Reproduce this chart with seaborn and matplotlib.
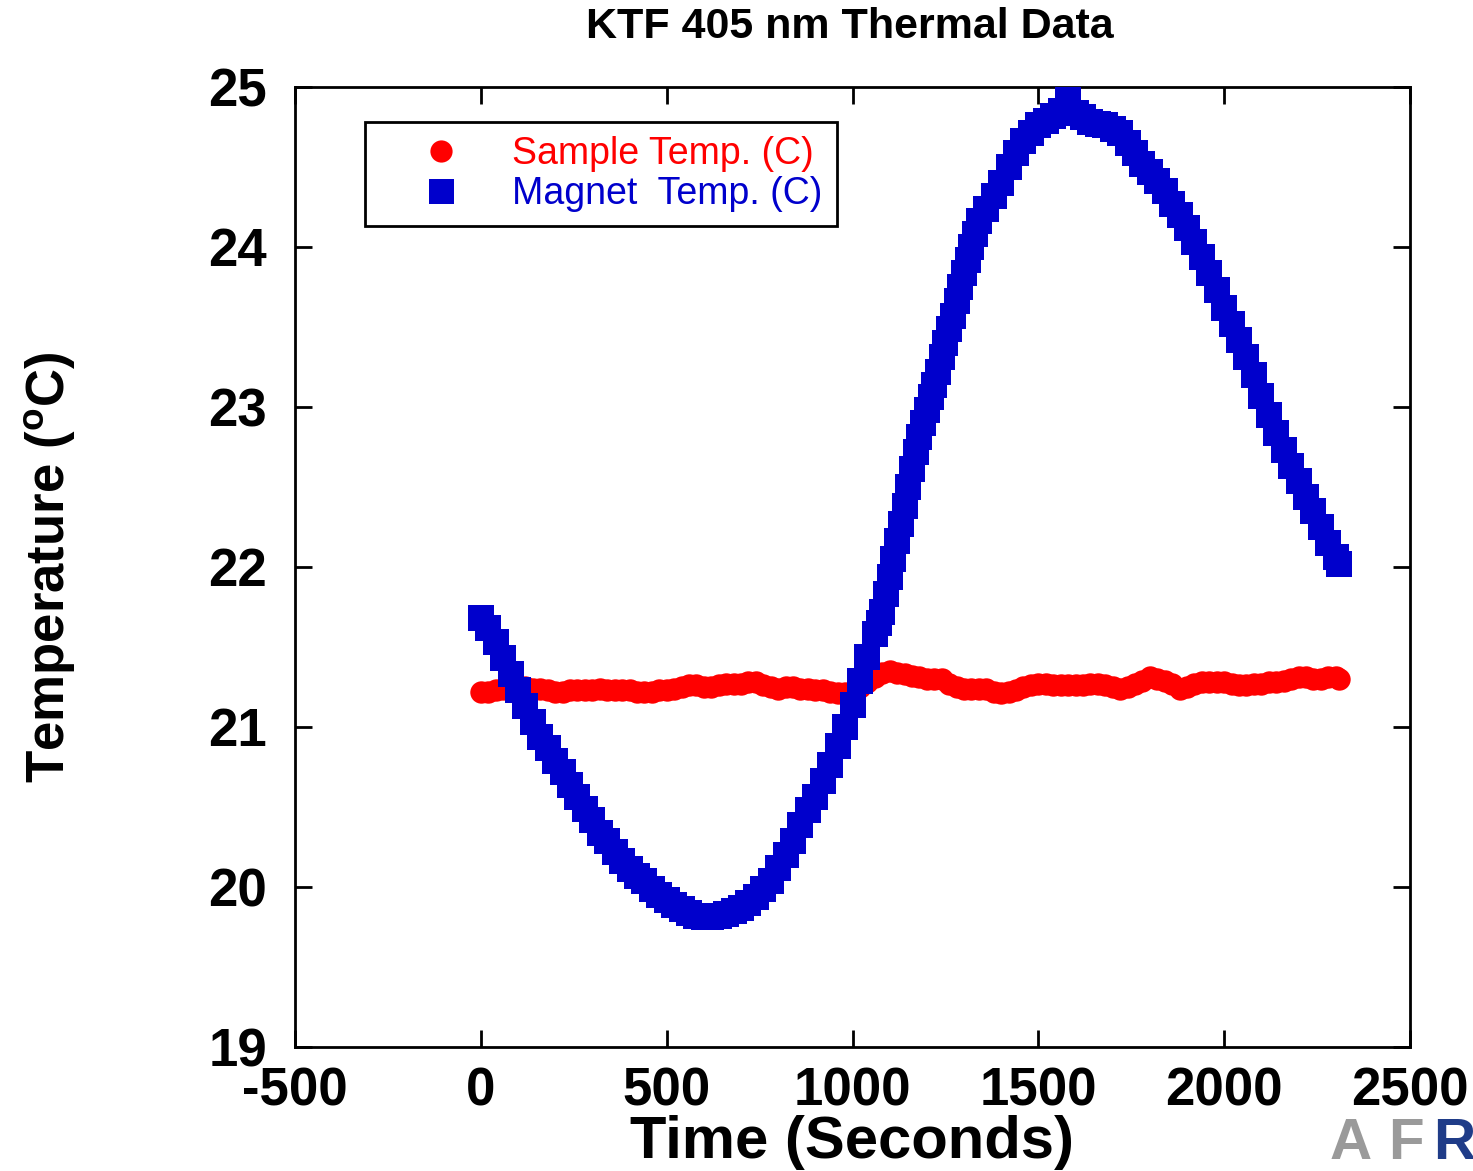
import matplotlib
matplotlib.use("Agg")
import matplotlib.pyplot as plt
from matplotlib.lines import Line2D
import numpy as np
import pandas as pd
import seaborn as sns

# ---------------- data ----------------
magnet_time = [0, 20, 40, 60, 80, 100, 120, 140, 160, 180, 200, 220, 240, 260, 280,
               300, 320, 340, 360, 380, 400, 420, 440, 460, 480, 500, 520, 540, 560, 580,
               600, 620, 640, 660, 680, 700, 720, 740, 760, 780, 800, 820, 840, 860, 880,
               900, 920, 940, 960, 980, 1000, 1020, 1040, 1060, 1070, 1080, 1090, 1100,
               1110, 1120, 1130, 1140, 1150, 1160, 1170, 1180, 1190, 1200, 1210, 1220,
               1230, 1240, 1250, 1260, 1270, 1280, 1290, 1300, 1310, 1320, 1330, 1340,
               1360, 1380, 1400, 1420, 1440, 1460, 1480, 1500, 1520, 1540, 1560, 1580,
               1600, 1620, 1640, 1660, 1680, 1700, 1720, 1740, 1760, 1780, 1800, 1820,
               1840, 1860, 1880, 1900, 1920, 1940, 1960, 1980, 2000, 2020, 2040, 2060,
               2080, 2100, 2120, 2140, 2160, 2180, 2200, 2220, 2240, 2260, 2280, 2300, 2310]
magnet_temp = [21.68, 21.62, 21.53, 21.43, 21.33, 21.23, 21.13, 21.03, 20.94, 20.87,
               20.79, 20.72, 20.64, 20.56, 20.49, 20.42, 20.34, 20.29, 20.22, 20.16,
               20.11, 20.07, 20.04, 19.99, 19.95, 19.92, 19.89, 19.86, 19.84, 19.82,
               19.81, 19.81, 19.82, 19.83, 19.85, 19.87, 19.90, 19.94, 19.99, 20.04,
               20.12, 20.20, 20.29, 20.39, 20.48, 20.56, 20.66, 20.76, 20.88, 21.00,
               21.14, 21.29, 21.44, 21.58, 21.65, 21.72, 21.83, 21.94, 22.05, 22.16,
               22.27, 22.38, 22.50, 22.61, 22.72, 22.81, 22.90, 22.98, 23.06, 23.14,
               23.22, 23.31, 23.40, 23.49, 23.57, 23.66, 23.75, 23.84, 23.92, 24.00,
               24.08, 24.16, 24.24, 24.32, 24.40, 24.50, 24.59, 24.66, 24.71, 24.76,
               24.79, 24.82, 24.85, 24.92, 24.84, 24.81, 24.78, 24.77, 24.76, 24.74,
               24.71, 24.65, 24.59, 24.52, 24.47, 24.41, 24.35, 24.27, 24.20, 24.12,
               24.03, 23.94, 23.84, 23.73, 23.62, 23.52, 23.42, 23.31, 23.20, 23.07,
               22.95, 22.84, 22.73, 22.63, 22.54, 22.44, 22.35, 22.25, 22.15, 22.06, 22.02]

sample_time = [0, 20, 40, 60, 80, 100, 120, 140, 160, 180, 200, 220, 240, 260, 280,
               300, 320, 340, 360, 380, 400, 420, 440, 460, 480, 500, 520, 540, 560, 580,
               600, 620, 640, 660, 680, 700, 720, 740, 760, 780, 800, 820, 840, 860, 880,
               900, 920, 940, 960, 980, 1000, 1020, 1040, 1060, 1080, 1100, 1120, 1140,
               1160, 1180, 1200, 1220, 1240, 1260, 1280, 1300, 1320, 1340, 1360, 1380,
               1400, 1420, 1440, 1460, 1480, 1500, 1520, 1540, 1560, 1580, 1600, 1620,
               1640, 1660, 1680, 1700, 1720, 1740, 1760, 1780, 1800, 1820, 1840, 1860,
               1880, 1900, 1920, 1940, 1960, 1980, 2000, 2020, 2040, 2060, 2080, 2100,
               2120, 2140, 2160, 2180, 2200, 2220, 2240, 2260, 2280, 2300, 2310]
sample_temp = [21.22, 21.22, 21.23, 21.24, 21.24, 21.25, 21.25, 21.24, 21.24, 21.23,
               21.22, 21.22, 21.23, 21.23, 21.23, 21.23, 21.24, 21.23, 21.23, 21.23,
               21.23, 21.22, 21.22, 21.22, 21.23, 21.23, 21.24, 21.25, 21.26, 21.26,
               21.25, 21.25, 21.26, 21.27, 21.27, 21.27, 21.28, 21.28, 21.26, 21.25,
               21.24, 21.25, 21.25, 21.24, 21.24, 21.23, 21.23, 21.22, 21.21, 21.21,
               21.22, 21.25, 21.28, 21.31, 21.34, 21.35, 21.34, 21.33, 21.32, 21.31,
               21.30, 21.30, 21.30, 21.27, 21.25, 21.24, 21.24, 21.24, 21.24, 21.22,
               21.21, 21.22, 21.23, 21.25, 21.26, 21.27, 21.27, 21.26, 21.26, 21.26,
               21.26, 21.26, 21.27, 21.27, 21.26, 21.25, 21.24, 21.25, 21.27, 21.29,
               21.31, 21.30, 21.29, 21.27, 21.24, 21.25, 21.27, 21.28, 21.28, 21.28,
               21.28, 21.27, 21.26, 21.26, 21.27, 21.27, 21.28, 21.28, 21.29, 21.30,
               21.31, 21.31, 21.30, 21.30, 21.31, 21.31, 21.30]

x_ticks = [-500, 0, 500, 1000, 1500, 2000, 2500]
y_ticks = [19, 20, 21, 22, 23, 24, 25]
series_labels = ["Sample Temp. (C)", "Magnet  Temp. (C)"]
title = "KTF 405 nm Thermal Data"

RED = "#FF0000"
BLUE = "#0000CC"

# ---------------- style ----------------
sns.set_style("ticks")
plt.rcParams["font.family"] = ["Liberation Sans", "DejaVu Sans"]
plt.rcParams["mathtext.fontset"] = "custom"
plt.rcParams["mathtext.rm"] = "Liberation Sans"
plt.rcParams["mathtext.bf"] = "Liberation Sans:bold"
plt.rcParams["text.color"] = "black"
plt.rcParams["axes.labelcolor"] = "black"
plt.rcParams["xtick.color"] = "black"
plt.rcParams["ytick.color"] = "black"

fig = plt.figure(figsize=(14.73, 11.71), dpi=100)
ax = fig.add_axes([295 / 1473, 1 - 1047 / 1171, (1410 - 295) / 1473, (1047 - 87) / 1171])

sample_df = pd.DataFrame({"time": sample_time, "temp": sample_temp})
magnet_df = pd.DataFrame({"time": magnet_time, "temp": magnet_temp})

sns.scatterplot(data=sample_df, x="time", y="temp", ax=ax, color=RED, marker="o",
                s=260, linewidth=0, legend=False, zorder=3)
sns.scatterplot(data=magnet_df, x="time", y="temp", ax=ax, color=BLUE, marker="s",
                s=350, linewidth=0, legend=False, zorder=4)

ax.set_xlim(-500, 2500)
ax.set_ylim(19, 25)
ax.set_xticks(x_ticks)
ax.set_yticks(y_ticks)
ax.set_xticklabels([str(v) for v in x_ticks])
ax.set_yticklabels([str(v) for v in y_ticks])

for sp in ax.spines.values():
    sp.set_visible(True)
    sp.set_linewidth(2)
    sp.set_color("black")

ax.tick_params(axis="both", which="major", direction="in", length=12, width=2,
               top=True, right=True, labelsize=38, colors="black")
ax.tick_params(axis="x", pad=14)
ax.tick_params(axis="y", pad=20)
for lab in ax.get_xticklabels() + ax.get_yticklabels():
    lab.set_fontweight("bold")

ax.set_xlabel("Time (Seconds)", fontsize=43, fontweight="bold", color="black")
ax.set_ylabel(r"Temperature ($^{\mathbf{o}}$C)", fontsize=38, fontweight="bold",
              color="black")
ax.xaxis.set_label_coords(0.5, -0.071)
ax.yaxis.set_label_coords(-0.195, 0.5)

fig.text(850 / 1473, 1 - 27 / 1171, title, fontsize=31, fontweight="bold",
         ha="center", va="center", color="black")

handles = [
    Line2D([], [], linestyle="none", marker="o", color=RED, markersize=16, markeredgewidth=0),
    Line2D([], [], linestyle="none", marker="s", color=BLUE, markersize=18, markeredgewidth=0),
]
leg = ax.legend(handles, series_labels, loc="upper left",
                bbox_to_anchor=((365 - 295) / 1115, (1047 - 122) / 960),
                borderaxespad=0, fontsize=27, frameon=True, fancybox=False,
                borderpad=0.38, handlelength=3.3, handletextpad=0.25,
                labelspacing=0.1)
frame = leg.get_frame()
frame.set_edgecolor("black")
frame.set_linewidth(2)
frame.set_facecolor("white")
frame.set_alpha(1)
for txt, c in zip(leg.get_texts(), [RED, BLUE]):
    txt.set_color(c)

# logo fragment in the lower right corner
fig.text(1330 / 1473, 1 - 1159 / 1171, "A", fontsize=42, fontweight="bold",
         color="#9A9A9A", ha="left", va="baseline")
fig.text(1388 / 1473, 1 - 1159 / 1171, "F", fontsize=42, fontweight="bold",
         color="#9A9A9A", ha="left", va="baseline")
fig.text(1433 / 1473, 1 - 1159 / 1171, "R", fontsize=42, fontweight="bold",
         color="#1F3C88", ha="left", va="baseline")

fig.savefig("out.png", dpi=100, facecolor="white")
